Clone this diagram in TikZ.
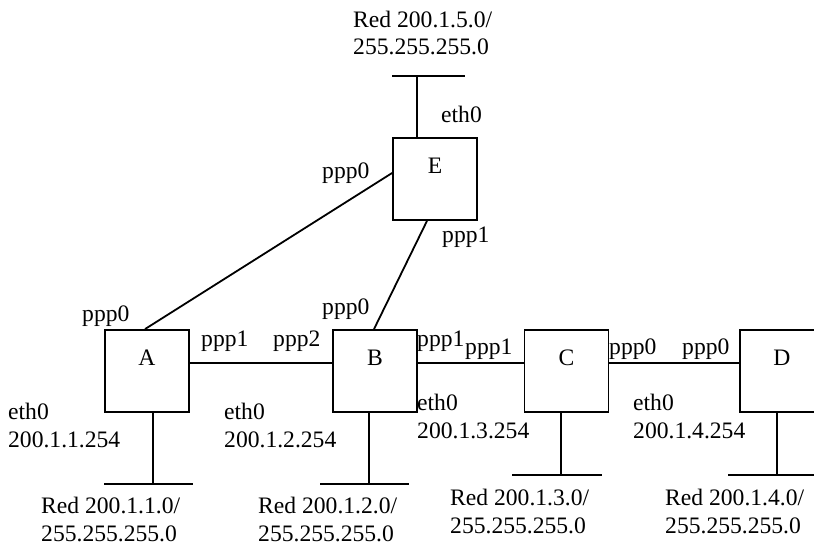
\documentclass[tikz,border=0pt]{standalone}
\usepackage{fontspec}
\setmainfont{Liberation Serif}
\usetikzlibrary{calc}
\begin{document}
\begin{tikzpicture}[x=1pt,y=-1pt,
  every node/.style={font=\fontsize{23.6pt}{27.5pt}\selectfont, inner sep=0pt},
  router/.style={draw, line width=1.8pt, minimum width=84pt, minimum height=82pt},
  wire/.style={line width=1.8pt},
  lbl/.style={anchor=base west},
  twoline/.style={anchor=base west, align=left},
  rname/.style={anchor=base}]
\useasboundingbox (0,0) rectangle (814,545);
\clip (0,0) rectangle (814,545);

% routers
\node[router] (A) at (147,371) {};
\node[router] (B) at (375,371) {};
\node[router] (C) at (566.5,371) {};
\node[router] (D) at (782,371) {};
\node[router] (E) at (435,179) {};

\node[rname] (nA) at (147,366) {A};
\node[rname] (nB) at (375,366) {B};
\node[rname] (nC) at (566.5,366) {C};
\node[rname] (nD) at (782,366) {D};
\node[rname] (nE) at (435,174) {E};

% point-to-point links
\draw[wire] ([xshift=-2pt]A.north) -- ([yshift=6pt]E.west);
\draw[wire] ([xshift=-1pt]B.north) -- ([xshift=-8pt]E.south);
\draw[wire] ([yshift=8pt]A.east) -- ([yshift=8pt]B.west);
\draw[wire] ([yshift=8pt]B.east) -- ([yshift=8pt]C.west);
\draw[wire] ([yshift=8pt]C.east) -- ([yshift=8pt]D.west);

% ethernet segments
\coordinate (netA) at (153,484);
\coordinate (netB) at (369,484);
\coordinate (netC) at (561,475);
\coordinate (netD) at (777,475);
\coordinate (netE) at (417,76);
\draw[wire] (A.south -| netA) -- (netA);
\draw[wire] (B.south -| netB) -- (netB);
\draw[wire] (C.south -| netC) -- (netC);
\draw[wire] (D.south -| netD) -- (netD);
\draw[wire] (E.north -| netE) -- (netE);
\draw[wire] (104,484) -- (193,484);
\draw[wire] (320,484) -- (409,484);
\draw[wire] (512,475) -- (602,475);
\draw[wire] (728,475) -- (820,475);
\draw[wire] (392,76) -- (465,76);

% interface labels
\node[lbl] (pE0) at (322,179) {ppp0};
\node[lbl] (pE1) at (442,243) {ppp1};
\node[lbl] (eE) at (441,123) {eth0};
\node[lbl] (pA0) at (82,322) {ppp0};
\node[lbl] (pB0) at (322,315) {ppp0};
\node[lbl] (pA1) at (201,347) {ppp1};
\node[lbl] (pB2) at (273,347) {ppp2};
\node[lbl] (pB1) at (417,347) {ppp1};
\node[lbl] (pC1) at (465,355) {ppp1};
\node[lbl] (pC0) at (609,355) {ppp0};
\node[lbl] (pD0) at (682,355) {ppp0};

% two-line labels are placed by the baseline of their last line
\node[twoline] (eA) at (8,447) {eth0\\200.1.1.254};
\node[twoline] (eB) at (224,447) {eth0\\200.1.2.254};
\node[twoline] (eC) at (417,438) {eth0\\200.1.3.254};
\node[twoline] (eD) at (633,438) {eth0\\200.1.4.254};

% network labels
\node[twoline] (rE) at (353,55) {Red 200.1.5.0/\\255.255.255.0};
\node[twoline] (rA) at (41,541) {Red 200.1.1.0/\\255.255.255.0};
\node[twoline] (rB) at (258,541) {Red 200.1.2.0/\\255.255.255.0};
\node[twoline] (rC) at (450,533) {Red 200.1.3.0/\\255.255.255.0};
\node[twoline] (rD) at (665,533) {Red 200.1.4.0/\\255.255.255.0};
\end{tikzpicture}
\end{document}
